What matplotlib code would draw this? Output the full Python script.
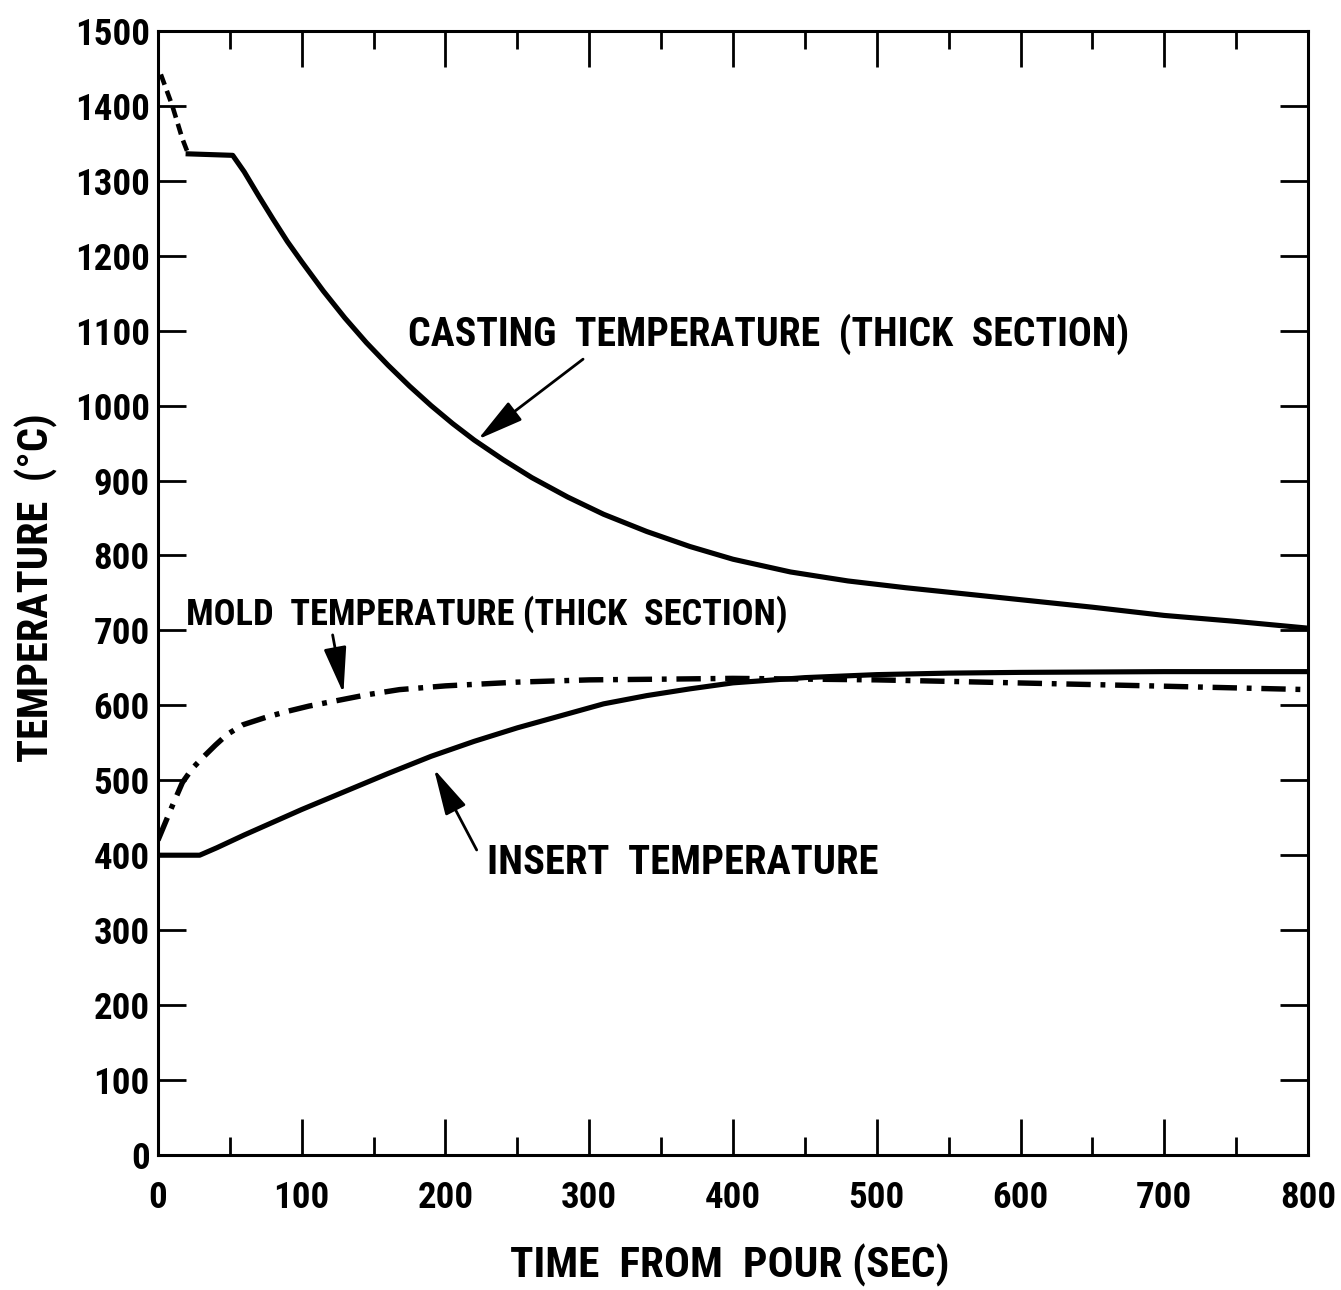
import matplotlib
matplotlib.use("Agg")
import matplotlib.pyplot as plt
from matplotlib import font_manager as fm
from matplotlib.ticker import MultipleLocator

# ---------------- data ----------------
casting_pour_t = [2, 10, 17, 21]
casting_pour_T = [1442, 1400, 1356, 1336]

casting_t = [21, 52, 60, 70, 80, 90, 100, 115, 130, 145, 160, 175, 190, 205,
             220, 240, 260, 285, 310, 340, 370, 400, 440, 480, 520, 560, 600,
             650, 700, 750, 800]
casting_T = [1336, 1334, 1312, 1280, 1249, 1219, 1192, 1153, 1117, 1084, 1054,
             1026, 1000, 976, 954, 928, 904, 878, 855, 832, 812, 795, 778,
             766, 757, 749, 741, 731, 720, 712, 703]

insert_t = [0, 29, 41, 60, 80, 100, 130, 160, 190, 220, 250, 280, 310, 340,
            370, 400, 450, 500, 550, 600, 700, 800]
insert_T = [400, 400, 410, 427, 444, 461, 485, 509, 532, 552, 570, 586, 602,
            613, 622, 630, 637, 641, 643, 644, 645, 645]

mold_t = [0, 5, 10, 17, 24, 31, 40, 48, 59, 75, 90, 105, 121, 145, 168, 200,
          250, 300, 354, 400, 450, 500, 550, 620, 690, 800]
mold_T = [420, 443, 466, 497, 516, 530, 547, 561, 574, 584, 592, 599, 605,
          614, 621, 626, 631, 634, 635, 636, 635, 634, 632, 629, 626, 621]

x_ticks = [0, 100, 200, 300, 400, 500, 600, 700, 800]
y_ticks = [0, 100, 200, 300, 400, 500, 600, 700, 800, 900, 1000, 1100,
           1200, 1300, 1400, 1500]

# ---------------- font choice (narrow bold sans if available) ----------------
def _w(e):
    w = e.weight
    if isinstance(w, str):
        w = fm.weight_dict.get(w, 400)
    return w

def find_file(pred):
    best = None
    for e in fm.fontManager.ttflist:
        if e.style != "normal":
            continue
        try:
            ok = pred(e)
        except Exception:
            ok = False
        if ok:
            sc = abs(_w(e) - 700)
            if best is None or sc < best[0]:
                best = (sc, e.fname)
    return best[1] if best else None

def st(e):
    return str(e.stretch).lower()

preds = [
    lambda e: e.name == "Liberation Sans Narrow",
    lambda e: "Noto Sans" in e.name and "CJK" not in e.name and "Mono" not in e.name
              and ("ExtraCondensed" not in e.name and "SemiCondensed" not in e.name)
              and ("Condensed" in e.name or st(e) == "condensed"),
    lambda e: e.name == "Roboto Condensed",
    lambda e: e.name == "DejaVu Sans" and st(e) in ("condensed", "semi-condensed"),
    lambda e: "Open Sans" in e.name and ("Condensed" in e.name or st(e) == "condensed"),
]
FONT_FILE = None
for p in preds:
    FONT_FILE = find_file(p)
    if FONT_FILE:
        break

def FP(size):
    if FONT_FILE:
        return fm.FontProperties(fname=FONT_FILE, size=size)
    return fm.FontProperties(family="DejaVu Sans", weight="bold", size=size)

# ---------------- figure ----------------
fig = plt.figure(figsize=(13.41, 12.9), dpi=100)
ax = fig.add_axes([0.1178, 0.1047, 0.8576, 0.8713])

LW = 3.7
ax.plot(casting_pour_t, casting_pour_T, color="black", lw=3.3,
        linestyle=(0, (2.4, 1.4)))
ax.plot(casting_t, casting_T, color="black", lw=LW, solid_joinstyle="round")
ax.plot(insert_t, insert_T, color="black", lw=LW, solid_joinstyle="round")
ax.plot(mold_t, mold_T, color="black", lw=3.9,
        linestyle=(0, (4.5, 1.8, 0.9, 1.8)))

ax.set_xlim(0, 800)
ax.set_ylim(0, 1500)
ax.set_xticks(x_ticks)
ax.set_yticks(y_ticks)
ax.xaxis.set_minor_locator(MultipleLocator(50))

for s in ax.spines.values():
    s.set_linewidth(2.2)

ax.tick_params(axis="x", which="major", direction="in", length=26, width=2.0,
               top=True, bottom=True, pad=18)
ax.tick_params(axis="x", which="minor", direction="in", length=13, width=2.0,
               top=True, bottom=True)
ax.tick_params(axis="y", which="major", direction="in", length=20, width=2.0,
               left=True, right=True, pad=6)

tick_size = 28
ax.set_xticklabels([str(v) for v in x_ticks], fontproperties=FP(tick_size))
ax.set_yticklabels([str(v) for v in y_ticks], fontproperties=FP(tick_size))

xl = ax.set_xlabel("TIME  FROM  POUR (SEC)", va="center", ha="center",
                   fontproperties=FP(28))
ax.xaxis.set_label_coords(0.497, -0.0985)
yl = ax.set_ylabel("TEMPERATURE  (°C)", va="center", ha="center",
                   fontproperties=FP(24))
ax.yaxis.set_label_coords(-0.1060, 0.5044)

# ---------------- annotations ----------------
t_cast = ax.text(174, 1095, "CASTING  TEMPERATURE  (THICK  SECTION)", ha="left",
                 va="center", fontproperties=FP(30))
t_mold = ax.text(19.5, 722, "MOLD  TEMPERATURE (THICK  SECTION)", ha="left",
                 va="center", fontproperties=FP(28))
t_ins = ax.text(229, 389, "INSERT  TEMPERATURE", ha="left", va="center",
                fontproperties=FP(30))

ap = dict(arrowstyle="-|>,head_length=1.3,head_width=0.32", color="black",
          lw=2.0, mutation_scale=22, shrinkA=0, shrinkB=0)
ax.annotate("", xy=(222.6, 955), xytext=(295.7, 1062), arrowprops=ap)
ax.annotate("", xy=(129, 616), xytext=(121.5, 694), arrowprops=ap)
ax.annotate("", xy=(192, 515), xytext=(221.7, 407), arrowprops=ap)

# ---------------- fit text widths to the reference ----------------
fig.canvas.draw()
r = fig.canvas.get_renderer()

def fit(t, target, vertical=False):
    bb = t.get_window_extent(r)
    cur = bb.height if vertical else bb.width
    t.set_fontsize(t.get_fontsize() * target / cur)

fit(t_cast, 720)
fit(t_mold, 602)
fit(t_ins, 389)
fit(xl, 440)
fit(yl, 350, vertical=True)

lab1500 = ax.get_yticklabels()[-1]
w1500 = lab1500.get_window_extent(r).width
new_tick = tick_size * 75.0 / w1500
ax.set_xticklabels([str(v) for v in x_ticks], fontproperties=FP(new_tick))
ax.set_yticklabels([str(v) for v in y_ticks], fontproperties=FP(new_tick))

fig.savefig("out.png", dpi=100)
